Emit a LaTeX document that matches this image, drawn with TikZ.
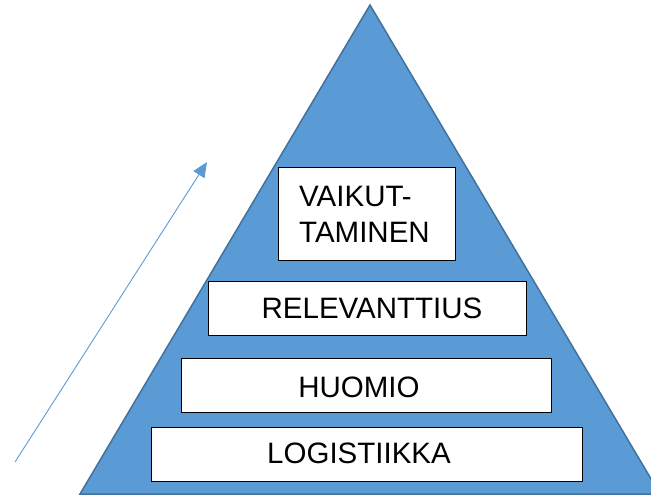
\documentclass[tikz,border=0pt]{standalone}
\usepackage{fontspec}
\setmainfont{Liberation Sans}
\usetikzlibrary{arrows.meta}
\definecolor{pyrfill}{HTML}{5B9BD5}
\definecolor{pyredge}{HTML}{41719C}
\tikzset{
  level/.style={draw=black, line width=1.1pt, fill=white, inner sep=0pt, anchor=north west},
  lbl/.style={font=\fontsize{29.5}{36}\selectfont, text=black, inner sep=0pt, anchor=base},
}
\begin{document}
\begin{tikzpicture}[x=1pt,y=-1pt]
\useasboundingbox (0,0) rectangle (651,495);
% pyramid
\draw[fill=pyrfill, draw=pyredge, line width=1.5pt, line join=miter]
  (370,5) -- (660,494) -- (80,494) -- cycle;
% levels
\node[level, minimum width=177pt, minimum height=93pt] (vai) at (278,167) {};
\node[level, minimum width=318pt, minimum height=54pt] (rel) at (208,281) {};
\node[level, minimum width=370pt, minimum height=54pt] (huo) at (181,358) {};
\node[level, minimum width=431pt, minimum height=54pt] (log) at (151,427) {};
% labels
\node[lbl, anchor=base west] (vai1) at (299,206) {VAIKUT-};
\node[lbl, anchor=base west] (vai2) at (299,242) {TAMINEN};
\node[lbl] (rell) at (372,318) {RELEVANTTIUS};
\node[lbl] (huol) at (359,397) {HUOMIO};
\node[lbl] (logl) at (359,463) {LOGISTIIKKA};
% rising arrow
\coordinate (arrs) at (15,462);
\coordinate (arrt) at (207,162);
\draw[pyrfill, line width=0.9pt, -{Triangle[length=15pt,width=13pt]}] (arrs) -- (arrt);
\end{tikzpicture}
\end{document}
